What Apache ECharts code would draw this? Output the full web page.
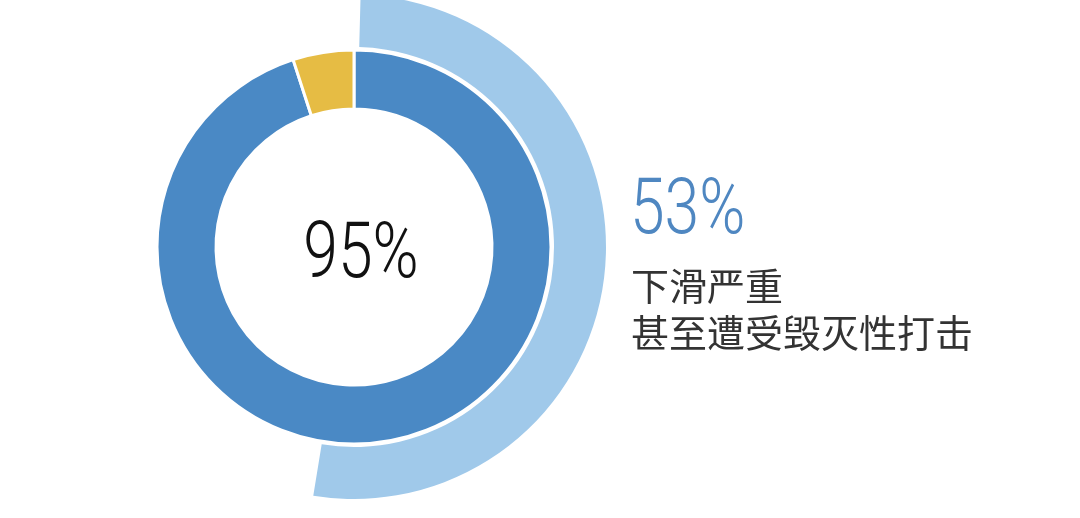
<!DOCTYPE html>
<html>
<head>
<meta charset="utf-8">
<script src="https://cdn.jsdelivr.net/npm/echarts@6/dist/echarts.min.js"></script>
<style>
html,body{margin:0;padding:0;background:#fff;}
#main{width:1080px;height:518px;}
</style>
</head>
<body>
<div id="main"></div>
<script>
// Data
const innerNames = ['占比', '其他'];
const innerValues = [95, 5];
const outerNames = ['下滑严重', '其余'];
const outerValues = [53, 47];
const centerLabel = '95%';
const sideValueLabel = '53%';
const sideTextLines = ['下滑严重', '甚至遭受毁灭性打击'];

const chart = echarts.init(document.getElementById('main'), null, {renderer: 'canvas'});

const innerColors = ['#4a89c5', '#e6bc44'];
const outerColors = ['#a0c9ea', 'rgba(0,0,0,0)'];
const bigFont = '300 78px Roboto, "DejaVu Sans", sans-serif';

const option = {
  backgroundColor: '#ffffff',
  animation: false,
  series: [
    {
      type: 'pie',
      center: [354, 247],
      radius: [138, 197],
      startAngle: 90,
      clockwise: true,
      silent: true,
      label: {show: false},
      labelLine: {show: false},
      itemStyle: {borderColor: '#ffffff', borderWidth: 3},
      data: innerNames.map((n, i) => ({name: n, value: innerValues[i], itemStyle: {color: innerColors[i]}}))
    },
    {
      type: 'pie',
      center: [354, 247],
      radius: [200, 252],
      startAngle: 90,
      clockwise: true,
      padAngle: 3,
      silent: true,
      label: {show: false},
      labelLine: {show: false},
      data: outerNames.map((n, i) => ({name: n, value: outerValues[i], itemStyle: {color: outerColors[i]}}))
    }
  ],
  graphic: [
    {
      type: 'text',
      x: 361, y: 257,
      scaleX: 0.8,
      style: {
        text: centerLabel,
        fill: '#111111',
        font: bigFont,
        textAlign: 'center',
        textVerticalAlign: 'middle'
      }
    },
    {
      type: 'text',
      x: 630, y: 213,
      scaleX: 0.8,
      style: {
        text: sideValueLabel,
        fill: '#4f87c1',
        font: bigFont,
        textAlign: 'left',
        textVerticalAlign: 'middle'
      }
    },
    {
      type: 'text',
      left: 631, top: 262,
      style: {
        text: sideTextLines.join('\n'),
        fill: '#333333',
        lineHeight: 47,
        font: 'normal 38px "Noto Sans CJK SC", sans-serif'
      }
    }
  ]
};
chart.setOption(option);
</script>
</body>
</html>
